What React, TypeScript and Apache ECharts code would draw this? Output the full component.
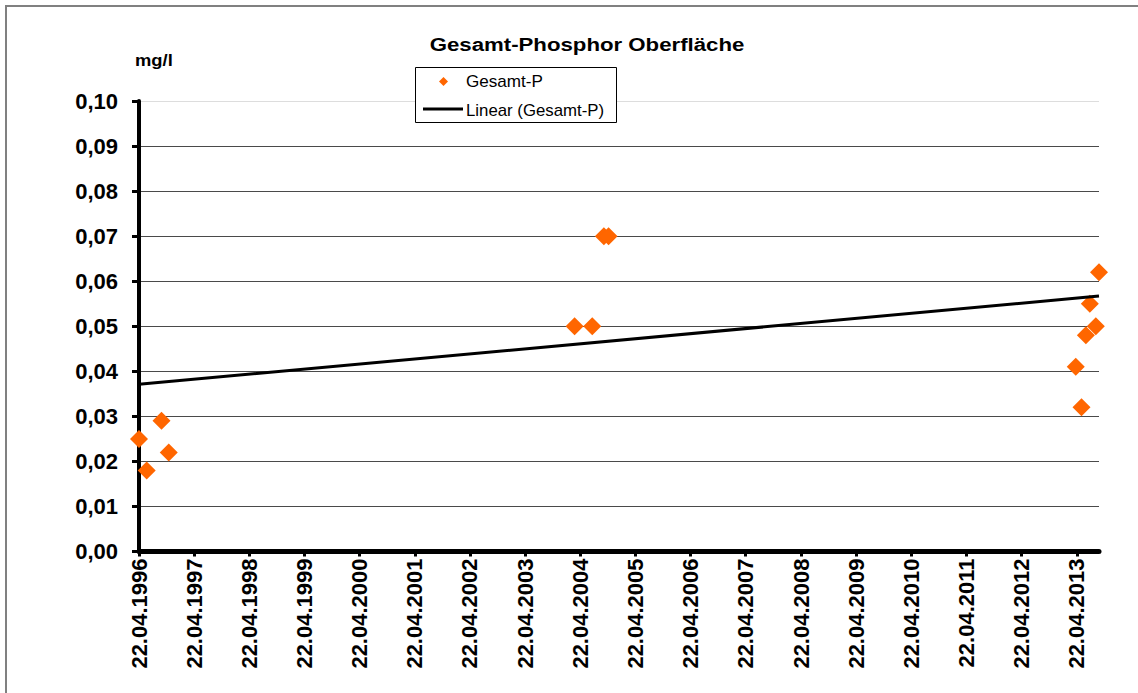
import React, { useEffect, useRef } from "react";
import * as echarts from "echarts";

// ---- data ----
const sampleDates: string[] = [
  "1996-04-22", "1996-06-12", "1996-09-18", "1996-11-05",
  "2004-03-15", "2004-07-10", "2004-09-25", "2004-10-26",
  "2013-04-15", "2013-05-23", "2013-06-21", "2013-07-17", "2013-08-26", "2013-09-16",
];
const sampleValues: number[] = [
  0.025, 0.018, 0.029, 0.022,
  0.05, 0.05, 0.07, 0.07,
  0.041, 0.032, 0.048, 0.055, 0.05, 0.062,
];
const trendDates: string[] = ["1996-04-22", "2013-09-16"];
const trendValues: number[] = [0.0371, 0.0567];
const tickYears: number[] = [
  1996, 1997, 1998, 1999, 2000, 2001, 2002, 2003, 2004,
  2005, 2006, 2007, 2008, 2009, 2010, 2011, 2012, 2013,
];
const axisStart = "1996-04-22";
const axisEnd = "2013-09-16";
const yMin = 0;
const yMax = 0.1;
const yStep = 0.01;

const titleText = "Gesamt-Phosphor Oberfläche";
const unitText = "mg/l";
const seriesName = "Gesamt-P";
const trendName = "Linear (Gesamt-P)";

const FONT = "'Liberation Sans', Arial, sans-serif";
const ORANGE = "#FF6600";

function toTs(s: string): number {
  const [y, m, d] = s.split("-").map(Number);
  return Date.UTC(y, m - 1, d);
}
function fmtDate(v: number): string {
  const d = new Date(v);
  const dd = String(d.getUTCDate()).padStart(2, "0");
  const mm = String(d.getUTCMonth() + 1).padStart(2, "0");
  return `${dd}.${mm}.${d.getUTCFullYear()}`;
}

export default function App() {
  const ref = useRef<HTMLDivElement>(null);

  useEffect(() => {
    if (!ref.current) return;
    const chart = echarts.init(ref.current, null, { renderer: "svg" });
    const tickValues = tickYears.map((y) => Date.UTC(y, 3, 22));
    const scatterData = sampleDates.map((d, i) => [toTs(d), sampleValues[i]]);
    const trendData = trendDates.map((d, i) => [toTs(d), trendValues[i]]);
    const gridColors = [
      "#4a4a4a", "#4a4a4a", "#4a4a4a", "#4a4a4a", "#4a4a4a", "#4a4a4a",
      "#4a4a4a", "#4a4a4a", "#4a4a4a", "#4a4a4a", "#dddddd",
    ];

    chart.setOption({
      animation: false,
      backgroundColor: "#ffffff",
      grid: { left: 139, right: 39, top: 101, bottom: 141.5, containLabel: false },
      xAxis: {
        type: "value",
        min: toTs(axisStart),
        max: toTs(axisEnd),
        axisLine: { show: true, lineStyle: { color: "#000", width: 5 } },
        axisTick: {
          show: true,
          customValues: tickValues,
          length: 5,
          lineStyle: { color: "#000", width: 3 },
        },
        axisLabel: {
          customValues: tickValues,
          rotate: 90,
          margin: 7,
          formatter: (v: number) => fmtDate(v),
          fontSize: 22,
          fontWeight: "bold",
          fontFamily: FONT,
          color: "#000",
        },
        splitLine: { show: false },
      },
      yAxis: {
        type: "value",
        min: yMin,
        max: yMax,
        interval: yStep,
        axisLine: { show: true, lineStyle: { color: "#000", width: 4 } },
        axisTick: { show: true, length: 7, lineStyle: { color: "#000", width: 3 } },
        axisLabel: {
          margin: 21,
          formatter: (v: number) => v.toFixed(2).replace(".", ","),
          fontSize: 22,
          fontWeight: "bold",
          fontFamily: FONT,
          color: "#000",
        },
        splitLine: { show: true, lineStyle: { color: gridColors, width: 1 } },
      },
      series: [
        {
          name: seriesName,
          type: "scatter",
          data: scatterData,
          symbol: "diamond",
          symbolSize: 18,
          itemStyle: { color: ORANGE, opacity: 1 },
          z: 3,
        },
        {
          name: trendName,
          type: "line",
          data: trendData,
          showSymbol: false,
          symbol: "none",
          lineStyle: { color: "#000", width: 3 },
          z: 4,
        },
      ],
      graphic: [
        {
          type: "rect",
          shape: { x: 6, y: 6, width: 1300, height: 900 },
          style: { fill: "none", stroke: "#808080", lineWidth: 2 },
          silent: true,
          z: 100,
        },
        {
          type: "text",
          x: 587,
          y: 44,
          scaleX: 1.17,
          style: {
            text: titleText,
            fontSize: 19,
            fontWeight: "bold",
            fontFamily: FONT,
            fill: "#000",
            textAlign: "center",
            textVerticalAlign: "middle",
          },
        },
        {
          type: "text",
          x: 135,
          y: 60,
          scaleX: 1.15,
          style: {
            text: unitText,
            fontSize: 16,
            fontWeight: "bold",
            fontFamily: FONT,
            fill: "#000",
            textAlign: "left",
            textVerticalAlign: "middle",
          },
        },
        {
          type: "rect",
          shape: { x: 415.5, y: 67.5, width: 201, height: 55 },
          style: { fill: "#fff", stroke: "#000", lineWidth: 1 },
          z: 50,
        },
        {
          type: "polygon",
          shape: { points: [[443.5, 77], [448, 81.5], [443.5, 86], [439, 81.5]] },
          style: { fill: ORANGE },
          z: 51,
        },
        {
          type: "text",
          x: 466,
          y: 82,
          scaleX: 1.07,
          style: {
            text: seriesName,
            fontSize: 16,
            fontFamily: FONT,
            fill: "#000",
            textAlign: "left",
            textVerticalAlign: "middle",
          },
          z: 51,
        },
        {
          type: "line",
          shape: { x1: 423, y1: 109, x2: 463, y2: 109 },
          style: { stroke: "#000", lineWidth: 3 },
          z: 51,
        },
        {
          type: "text",
          x: 466,
          y: 110,
          scaleX: 1.05,
          style: {
            text: trendName,
            fontSize: 16,
            fontFamily: FONT,
            fill: "#000",
            textAlign: "left",
            textVerticalAlign: "middle",
          },
          z: 51,
        },
      ],
    });

    return () => chart.dispose();
  }, []);

  return (
    <div
      ref={ref}
      style={{ position: "absolute", left: 0, top: 0, width: 1138, height: 693, background: "#fff" }}
    />
  );
}
